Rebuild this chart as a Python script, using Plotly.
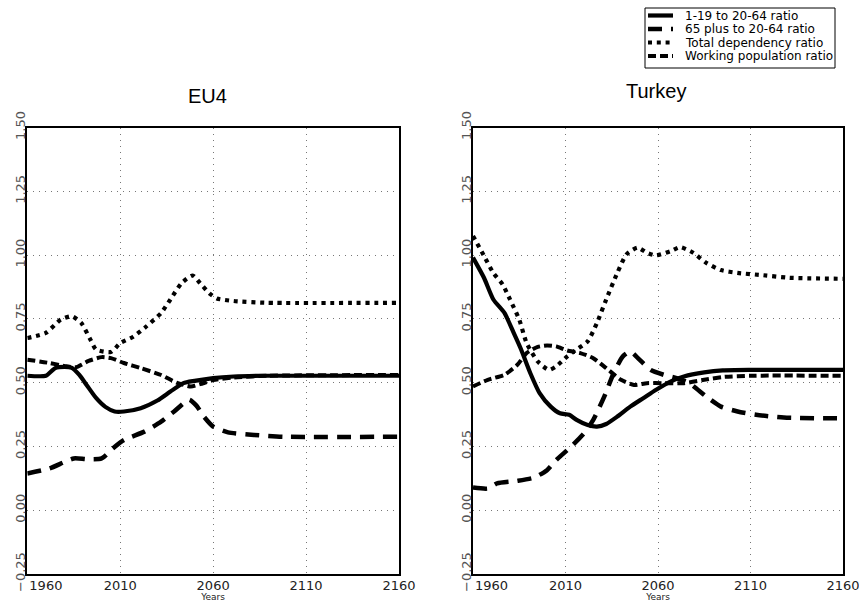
import plotly.graph_objects as go

# ---------------- data ----------------
series_names = ["1-19 to 20-64 ratio", "65 plus to 20-64 ratio",
                "Total dependency ratio", "Working population ratio"]
panel_titles = ["EU4", "Turkey"]
x_tickvals = [1960, 2010, 2060, 2110, 2160]
x_ticktext = ["\u00a0" * 9 + "1960", "2010", "2060", "2110", "2160"]

# EU4
eu_young_years = [1960, 1970, 1975, 1980, 1984, 1988, 1992, 1997, 2002, 2007, 2012, 2021, 2030, 2037, 2044, 2050, 2060, 2071, 2089, 2160]
eu_young = [0.527, 0.527, 0.557, 0.562, 0.558, 0.53, 0.49, 0.44, 0.405, 0.387, 0.387, 0.40, 0.43, 0.465, 0.498, 0.507, 0.518, 0.524, 0.527, 0.527]
eu_old_years = [1960, 1972, 1985, 1992, 2000, 2006, 2012, 2023, 2032, 2039, 2047, 2051, 2055, 2060, 2068, 2082, 2098, 2160]
eu_old = [0.144, 0.164, 0.203, 0.200, 0.203, 0.242, 0.275, 0.308, 0.347, 0.387, 0.433, 0.41, 0.367, 0.328, 0.305, 0.295, 0.288, 0.288]
eu_total_years = [1960, 1970, 1978, 1984, 1989, 1994, 1997, 2005, 2010, 2017, 2024, 2032, 2037, 2043, 2049, 2053, 2058, 2062, 2071, 2089, 2160]
eu_total = [0.675, 0.695, 0.747, 0.76, 0.734, 0.668, 0.63, 0.62, 0.655, 0.68, 0.72, 0.773, 0.826, 0.89, 0.92, 0.89, 0.85, 0.83, 0.82, 0.813, 0.813]
eu_work_years = [1960, 1972, 1981, 1986, 1993, 2000, 2005, 2012, 2021, 2032, 2041, 2048, 2053, 2060, 2071, 2089, 2160]
eu_work = [0.59, 0.577, 0.564, 0.56, 0.585, 0.60, 0.596, 0.577, 0.557, 0.53, 0.498, 0.485, 0.494, 0.51, 0.52, 0.527, 0.53]

# Turkey
tr_young_years = [1960, 1966, 1971, 1977, 1982, 1986, 1991, 1996, 2002, 2007, 2012, 2016, 2022, 2027, 2032, 2038, 2045, 2052, 2059, 2067, 2074, 2085, 2095, 2110, 2160]
tr_young = [0.99, 0.91, 0.826, 0.773, 0.695, 0.63, 0.537, 0.459, 0.406, 0.38, 0.374, 0.354, 0.334, 0.328, 0.338, 0.367, 0.406, 0.439, 0.472, 0.505, 0.524, 0.54, 0.548, 0.55, 0.55]
tr_old_years = [1960, 1968, 1973, 1984, 1993, 2000, 2005, 2013, 2020, 2025, 2031, 2036, 2041, 2045, 2050, 2056, 2063, 2070, 2077, 2086, 2094, 2103, 2113, 2128, 2160]
tr_old = [0.089, 0.085, 0.105, 0.115, 0.128, 0.157, 0.197, 0.249, 0.301, 0.354, 0.446, 0.537, 0.603, 0.622, 0.59, 0.55, 0.531, 0.518, 0.498, 0.446, 0.406, 0.387, 0.374, 0.363, 0.36]
tr_total_years = [1960, 1966, 1971, 1976, 1980, 1985, 1989, 1995, 2001, 2005, 2011, 2016, 2022, 2027, 2032, 2038, 2043, 2049, 2054, 2059, 2067, 2072, 2079, 2086, 2094, 2103, 2117, 2131, 2160]
tr_total = [1.075, 0.996, 0.93, 0.885, 0.826, 0.747, 0.655, 0.583, 0.55, 0.564, 0.603, 0.63, 0.662, 0.734, 0.826, 0.93, 1.003, 1.029, 1.009, 0.999, 1.016, 1.031, 1.009, 0.97, 0.941, 0.93, 0.921, 0.911, 0.907]
tr_work_years = [1960, 1968, 1977, 1984, 1989, 1995, 2000, 2005, 2011, 2018, 2025, 2032, 2040, 2047, 2054, 2063, 2074, 2085, 2095, 2110, 2160]
tr_work = [0.485, 0.511, 0.531, 0.57, 0.616, 0.64, 0.646, 0.642, 0.626, 0.616, 0.596, 0.557, 0.511, 0.491, 0.498, 0.498, 0.498, 0.511, 0.522, 0.527, 0.527]

# ---------------- styles ----------------
styles = [
    dict(width=4.2, dash="solid"),
    dict(width=4.5, dash="14px,9px"),
    dict(width=4.2, dash="4px,4.8px"),
    dict(width=4, dash="8px,4px"),
]

W, H = 859, 610
fig = go.Figure()

panels = [
    [(eu_young_years, eu_young), (eu_old_years, eu_old), (eu_total_years, eu_total), (eu_work_years, eu_work)],
    [(tr_young_years, tr_young), (tr_old_years, tr_old), (tr_total_years, tr_total), (tr_work_years, tr_work)],
]
for p, data in enumerate(panels):
    xa = "x" if p == 0 else "x2"
    ya = "y" if p == 0 else "y2"
    for i, (xs, ys) in enumerate(data):
        fig.add_trace(go.Scatter(
            x=xs, y=ys, mode="lines", name=series_names[i], showlegend=False,
            line=dict(color="black", width=styles[i]["width"], dash=styles[i]["dash"],
                      shape="spline", smoothing=0.6),
            xaxis=xa, yaxis=ya, cliponaxis=True))

ydom = [1 - 574 / H, 1 - 127.5 / H]
xdoms = [[27.3 / W, 399 / W], [473 / W, 843 / W]]

axis_common_x = dict(range=[1960, 2160], tickvals=x_tickvals, ticktext=x_ticktext,
                     showgrid=True, gridcolor="#777", griddash="1px,5px", gridwidth=1,
                     showline=True, linecolor="black", linewidth=1.8, mirror=True,
                     ticks="", zeroline=False, automargin=False,
                     ticklabeloverflow="allow", ticklabelstandoff=-2,
                     tickfont=dict(family="DejaVu Sans", size=13, color="#222"),
                     title=dict(text="Years", font=dict(family="DejaVu Sans", size=9, color="#222"), standoff=2))
axis_common_y = dict(range=[-0.25, 1.5], dtick=0.25, tick0=0, tickformat=".2f",
                     showgrid=True, gridcolor="#777", griddash="1px,5px", gridwidth=1,
                     showline=True, linecolor="black", linewidth=1.8, mirror=True,
                     ticks="", zeroline=False, tickangle=-90, automargin=False,
                     ticklabeloverflow="allow", ticklabelstandoff=-5,
                     tickfont=dict(family="DejaVu Sans", size=13, color="#555"))

fig.update_layout(
    template="none",
    width=W, height=H, margin=dict(l=0, r=0, t=0, b=0, autoexpand=False),
    paper_bgcolor="white", plot_bgcolor="white", showlegend=False,
    xaxis=dict(domain=xdoms[0], anchor="y", **axis_common_x),
    yaxis=dict(domain=ydom, anchor="x", **axis_common_y),
    xaxis2=dict(domain=xdoms[1], anchor="y2", **axis_common_x),
    yaxis2=dict(domain=ydom, anchor="x2", **axis_common_y),
)

# panel titles
title_pos = [(207.5 / W, 1 - 96 / H), (656 / W, 1 - 91 / H)]
for t, (tx, ty) in zip(panel_titles, title_pos):
    fig.add_annotation(text=t, x=tx, y=ty, xref="paper", yref="paper",
                       xanchor="center", yanchor="middle", showarrow=False,
                       font=dict(family="Liberation Sans", size=20, color="black"))

# legend box (manual, compact like the reference)
fig.add_shape(type="rect", xref="paper", yref="paper",
              x0=645 / W, x1=835 / W, y0=1 - 68 / H, y1=1 - 8 / H,
              line=dict(color="black", width=1), fillcolor="white")
row_y = [15.5, 29, 42.5, 56]
for i, name in enumerate(series_names):
    yy = 1 - row_y[i] / H
    fig.add_shape(type="line", xref="paper", yref="paper",
                  x0=648 / W, x1=673 / W, y0=yy, y1=yy,
                  line=dict(color="black", width=styles[i]["width"], dash=styles[i]["dash"]))
    fig.add_annotation(text=name, x=683 / W, y=yy, xref="paper", yref="paper",
                       xanchor="left", yanchor="middle", showarrow=False,
                       font=dict(family="DejaVu Sans", size=12, color="black"))

fig.write_html("out.html", config={"displayModeBar": False},
               post_script="document.body.style.margin='0';document.body.style.overflow='hidden';")
